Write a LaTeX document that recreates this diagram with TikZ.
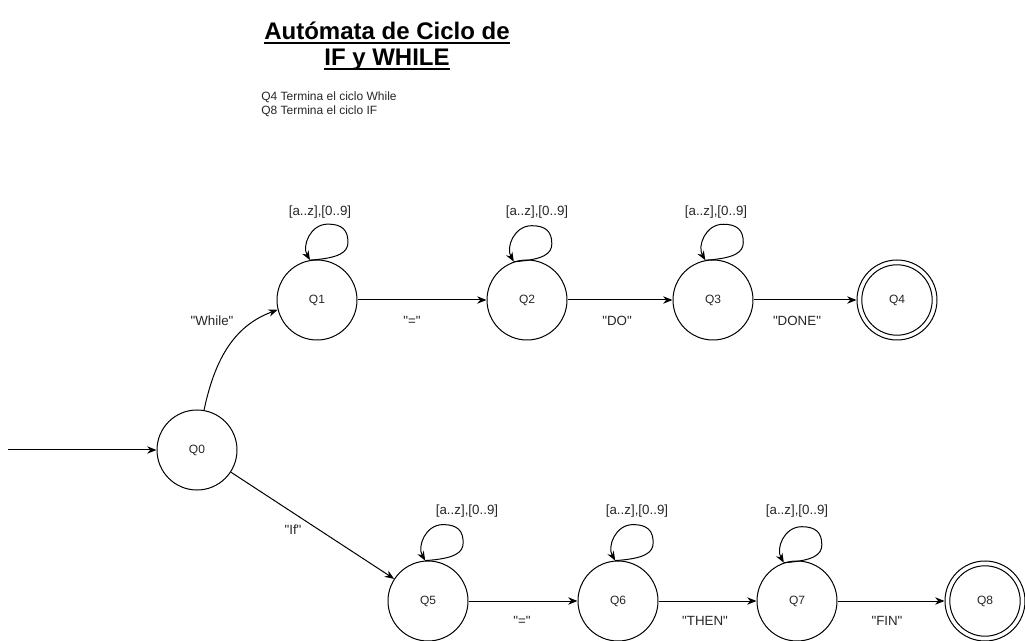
\documentclass[tikz,border=0pt]{standalone}
\usepackage{fontspec}
\setmainfont{Liberation Sans}[Ligatures=TeXOff]
\usetikzlibrary{arrows.meta}
\newcommand\qloop[2]{%
  \draw[arr] (#1.#2) .. controls +(30,-2) and +(0,10) .. ++(38,-18)
    .. controls +(0,-12) and +(14,0) .. ++(-20,-18)
    .. controls +(-18,0) and +(-8,-14) .. (#1.#2);}
\begin{document}
\begin{tikzpicture}[x=0.75pt,y=-0.75pt,
  state/.style={circle,draw,line width=0.75pt,minimum size=60pt,inner sep=0pt,
    font=\fontsize{9}{10}\selectfont,text=black!85},
  ring/.style={line width=0.75pt},
  arr/.style={-{Stealth[length=7pt,width=5.5pt]},line width=0.75pt},
  lbl/.style={inner sep=0pt,font=\fontsize{10}{12}\selectfont,text=black!85},
  note/.style={inner sep=0pt,anchor=base west,font=\fontsize{9}{10.5}\selectfont,text=black!85},
  ttl/.style={inner sep=0pt,anchor=base,font=\bfseries\fontsize{18}{21}\selectfont},
  uline/.style={line width=1.5pt}
]
\useasboundingbox (0,0) rectangle (1025,641);

% title
\node[ttl] (t1) at (387,39.5) {Autómata de Ciclo de};
\node[ttl] (t2) at (387,66) {IF y WHILE};
\draw[uline] ([yshift=-2.3pt]t1.base west) -- ([yshift=-2.3pt]t1.base east);
\draw[uline] ([yshift=-2.3pt]t2.base west) -- ([yshift=-2.3pt]t2.base east);

% notes
\node[note] (n1) at (261,100.5) {Q4 Termina el ciclo While};
\node[note] (n2) at (261,114.5) {Q8 Termina el ciclo IF};

% states
\node[state] (Q0) at (197,450) {Q0};
\node[state] (Q1) at (317,300) {Q1};
\node[state] (Q2) at (527,300) {Q2};
\node[state] (Q3) at (713,300) {Q3};
\node[state] (Q4) at (897,300) {Q4};
\node[state] (Q5) at (428,601) {Q5};
\node[state] (Q6) at (618,601) {Q6};
\node[state] (Q7) at (797,601) {Q7};
\node[state] (Q8) at (985,601) {Q8};
\draw[ring] (Q4.center) circle[radius=26.4pt];
\draw[ring] (Q8.center) circle[radius=26.4pt];

% initial arrow
\coordinate (init) at (8,450);
\draw[arr] (init) -- (Q0);

% transitions
\draw[arr] (Q0.80) to[out=78,in=200] (Q1.194);
\draw[arr] (Q0) -- (Q5);
\draw[arr] (Q1) -- (Q2);
\draw[arr] (Q2) -- (Q3);
\draw[arr] (Q3) -- (Q4);
\draw[arr] (Q5) -- (Q6);
\draw[arr] (Q6) -- (Q7);
\draw[arr] (Q7) -- (Q8);

% self loops
\qloop{Q1}{100}
\qloop{Q2}{109}
\qloop{Q3}{101}
\qloop{Q5}{94}
\qloop{Q6}{94}
\qloop{Q7}{109}

% loop labels
\node[lbl] (l1) at (320,212) {[a..z],[0..9]};
\node[lbl] (l2) at (537,212) {[a..z],[0..9]};
\node[lbl] (l3) at (716,212) {[a..z],[0..9]};
\node[lbl] (l5) at (467,511) {[a..z],[0..9]};
\node[lbl] (l6) at (637,511) {[a..z],[0..9]};
\node[lbl] (l7) at (797,511) {[a..z],[0..9]};

% edge labels
\node[lbl] (e01) at (212,321) {"While"};
\node[lbl] (e05) at (293,530) {"If"};
\node[lbl] (e12) at (412,321) {"="};
\node[lbl] (e23) at (617,321) {"DO"};
\node[lbl] (e34) at (797,321) {"DONE"};
\node[lbl] (e56) at (522,621) {"="};
\node[lbl] (e67) at (705,621) {"THEN"};
\node[lbl] (e78) at (887,621) {"FIN"};
\end{tikzpicture}
\end{document}
